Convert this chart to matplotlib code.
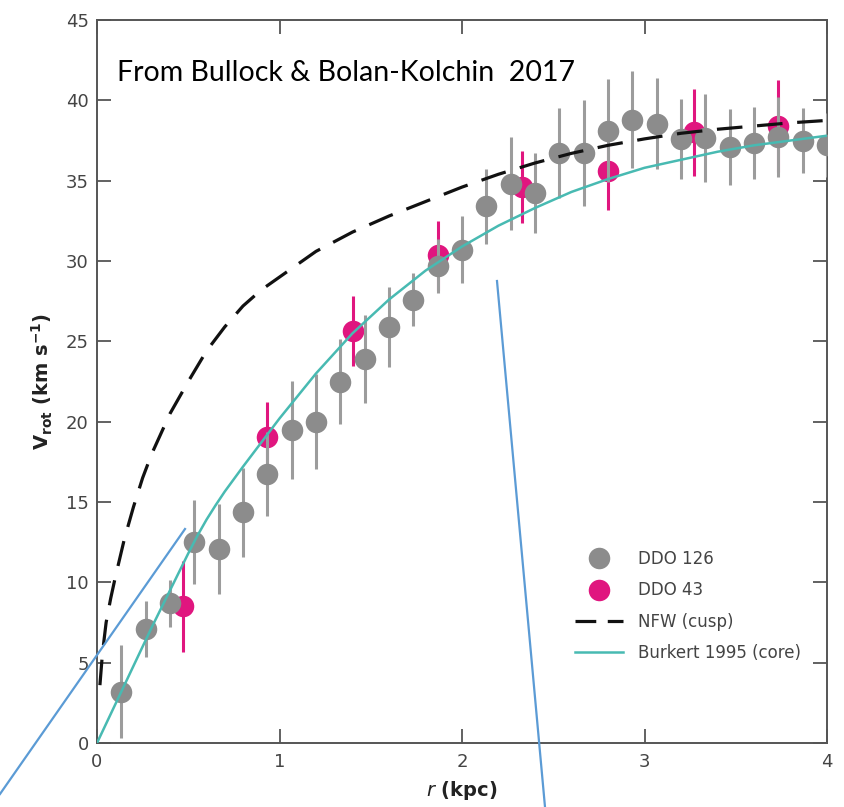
import matplotlib
matplotlib.use('Agg')
import matplotlib.pyplot as plt
from matplotlib.lines import Line2D

# ---------------- data ----------------
r_ddo126 = [0.13, 0.27, 0.40, 0.53, 0.67, 0.80, 0.93, 1.07, 1.20, 1.33, 1.47, 1.60, 1.73, 1.87, 2.00,
            2.13, 2.27, 2.40, 2.53, 2.67, 2.80, 2.93, 3.07, 3.20, 3.33, 3.47, 3.60, 3.73, 3.87, 4.00]
v_ddo126 = [3.2, 7.1, 8.7, 12.5, 12.1, 14.35, 16.75, 19.5, 20.0, 22.5, 23.9, 25.9, 27.6, 29.7, 30.7,
            33.4, 34.8, 34.25, 36.7, 36.7, 38.1, 38.8, 38.55, 37.6, 37.65, 37.1, 37.35, 37.7, 37.5, 37.2]
e_ddo126 = [2.9, 1.75, 1.45, 2.6, 2.8, 2.75, 2.6, 3.05, 2.95, 2.65, 2.75, 2.5, 1.65, 1.7, 2.1,
            2.35, 2.9, 2.5, 2.8, 3.3, 3.2, 3.0, 2.85, 2.5, 2.75, 2.35, 2.25, 2.5, 2.05, 2.0]

r_ddo43 = [0.47, 0.93, 1.40, 1.87, 2.33, 2.80, 3.27, 3.73]
v_ddo43 = [8.5, 19.05, 25.65, 30.35, 34.6, 35.6, 38.0, 38.4]
e_ddo43 = [2.85, 2.2, 2.2, 2.15, 2.25, 2.4, 2.7, 2.85]

r_nfw = [0.016, 0.03, 0.05, 0.075, 0.1, 0.15, 0.2, 0.25, 0.3, 0.4, 0.5, 0.6, 0.7, 0.8, 0.9, 1.0,
         1.2, 1.4, 1.6, 1.8, 2.0, 2.2, 2.4, 2.6, 2.8, 3.0, 3.2, 3.4, 3.6, 3.8, 4.0]
v_nfw = [3.6, 5.6, 7.5, 9.0, 10.3, 12.7, 14.7, 16.5, 18.0, 20.5, 22.5, 24.4, 25.9, 27.2, 28.2, 29.0,
         30.6, 31.8, 32.8, 33.7, 34.6, 35.4, 36.1, 36.7, 37.2, 37.6, 37.95, 38.2, 38.4, 38.6, 38.75]

r_burkert = [0, 0.1, 0.2, 0.3, 0.4, 0.5, 0.55, 0.6, 0.65, 0.7, 0.8, 0.9, 1.0, 1.2, 1.4, 1.6, 1.8, 2.0,
             2.2, 2.4, 2.6, 2.8, 3.0, 3.2, 3.4, 3.6, 3.8, 4.0]
v_burkert = [0, 2.4, 4.8, 7.2, 9.5, 11.8, 12.9, 13.9, 14.8, 15.65, 17.2, 18.7, 20.2, 23.0, 25.5, 27.6,
             29.4, 30.9, 32.2, 33.3, 34.3, 35.1, 35.8, 36.3, 36.8, 37.2, 37.5, 37.8]

x_ticks = [0, 1, 2, 3, 4]
y_ticks = [0, 5, 10, 15, 20, 25, 30, 35, 40, 45]

labels = ['DDO 126', 'DDO 43', 'NFW (cusp)', 'Burkert 1995 (core)']
source_text = 'From Bullock & Bolan-Kolchin  2017'

# ---------------- style ----------------
GRAY = '#8c8c8c'
GRAY_E = '#9c9c9c'
PINK = '#e0167f'
TEAL = '#48bab2'
AXC = '#555555'
TXT = '#444444'
narrow = ['Liberation Sans Narrow', 'DejaVu Sans']

plt.rcParams['font.family'] = narrow
plt.rcParams['mathtext.fontset'] = 'dejavusans'

fig = plt.figure(figsize=(8.44, 8.07), dpi=100)
ax = fig.add_axes([97 / 844, 1 - 743 / 807, 730 / 844, 723 / 807])

DASH = (8, 4.6)
ax.errorbar(r_ddo43, v_ddo43, yerr=e_ddo43, fmt='o', ms=15.5, color=PINK, ecolor=PINK,
            elinewidth=2.2, capsize=0, mew=0, zorder=3)
ax.errorbar(r_ddo126, v_ddo126, yerr=e_ddo126, fmt='o', ms=15.5, color=GRAY, ecolor=GRAY_E,
            elinewidth=2.2, capsize=0, mew=0, zorder=4)
ax.plot(r_nfw, v_nfw, color='#111111', lw=2.3, dashes=DASH, zorder=5)
ax.plot(r_burkert, v_burkert, color=TEAL, lw=1.8, zorder=6)

ax.set_xlim(0, 4)
ax.set_ylim(0, 45)
ax.set_xticks(x_ticks)
ax.set_yticks(y_ticks)
ax.set_xticklabels([str(t) for t in x_ticks])
ax.set_yticklabels([str(t) for t in y_ticks])
ax.tick_params(direction='in', length=10, width=1.3, color=AXC, top=True, right=True,
               labelsize=13, labelcolor=TXT)
ax.tick_params(axis='y', pad=6)
ax.tick_params(axis='x', pad=7)
for s in ax.spines.values():
    s.set_color(AXC)
    s.set_linewidth(1.4)

ax.set_xlabel(r'$\mathit{r}$ (kpc)', fontsize=14, fontweight='bold', color='#222222', labelpad=6)
ax.set_ylabel(r'$\mathbf{V}_{\mathbf{rot}}$ (km s$^{\mathbf{-1}}$)', fontsize=14, fontweight='bold',
              color='#222222', labelpad=8)

handles = [
    Line2D([], [], ls='none', marker='o', ms=15.5, color=GRAY, mew=0),
    Line2D([], [], ls='none', marker='o', ms=15.5, color=PINK, mew=0),
    Line2D([], [], color='#111111', lw=2.3, dashes=(6.5, 3.6)),
    Line2D([], [], color=TEAL, lw=1.8),
]
leg = ax.legend(handles, labels, loc='upper left', bbox_to_anchor=(575 / 844, 1 - 550 / 807),
                bbox_transform=fig.transFigure, frameon=False, fontsize=12, handlelength=2.9,
                handletextpad=0.9, labelspacing=0.8, borderpad=0, borderaxespad=0)
for t in leg.get_texts():
    t.set_color(TXT)

fig.text(117 / 844, 1 - 81 / 807, source_text, fontsize=20.5, family=['Lato', 'DejaVu Sans'],
         color='black', va='baseline', ha='left')

# annotation lines drawn on the picture
fig.add_artist(Line2D([185 / 844, 0], [1 - 529 / 807, 1 - 794 / 807], color='#5b9bd5', lw=1.6,
                      transform=fig.transFigure))
fig.add_artist(Line2D([497 / 844, 545 / 844], [1 - 281 / 807, 0], color='#5b9bd5', lw=1.6,
                      transform=fig.transFigure))

fig.savefig('out.png', dpi=100)
